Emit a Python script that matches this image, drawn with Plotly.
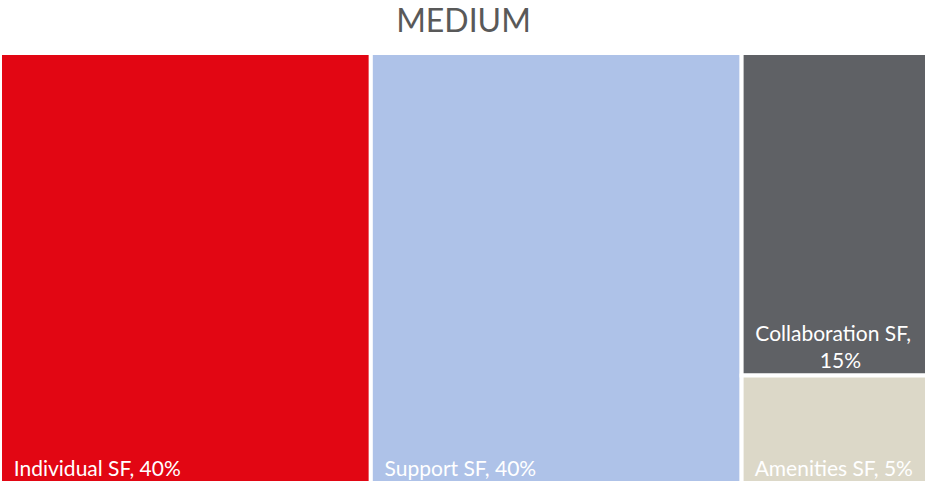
import plotly.graph_objects as go

categories = ["Individual SF", "Support SF", "Collaboration SF", "Amenities SF"]
values = [40, 40, 15, 5]
labels_text = ["\u00a0\u00a0Individual SF, 40%", "\u00a0\u00a0Support SF, 40%",
               "\u00a0\u00a0Collaboration SF,<br>\u00a0\u00a0\u00a0\u00a0\u00a0\u00a0\u00a0\u00a0\u00a0\u00a0\u00a0\u00a0\u00a0\u00a015%",
               "\u00a0\u00a0Amenities SF, 5%"]
colors = ["#E20613", "#AEC2E8", "#5F6165", "#DCD8C8"]

fig = go.Figure(go.Treemap(
    labels=categories,
    parents=[""] * len(categories),
    values=values,
    text=labels_text,
    textinfo="text",
    textposition="bottom left",
    sort=False,
    marker=dict(colors=colors, line=dict(color="white", width=4),
                pad=dict(t=0, l=0, r=0, b=0)),
    textfont=dict(family="Lato", size=21, color="white"),
    tiling=dict(packing="squarify", pad=0),
    pathbar=dict(visible=False),
    hoverinfo="label+value",
))

fig.update_layout(
    width=927, height=484,
    margin=dict(l=0, r=0, t=53, b=1),
    paper_bgcolor="white",
    title=dict(text="MEDIUM", x=0.5, xanchor="center", y=0.98, yanchor="top",
               font=dict(family="Lato", size=32, color="#595959")),
)

fig.write_html("out.html")
